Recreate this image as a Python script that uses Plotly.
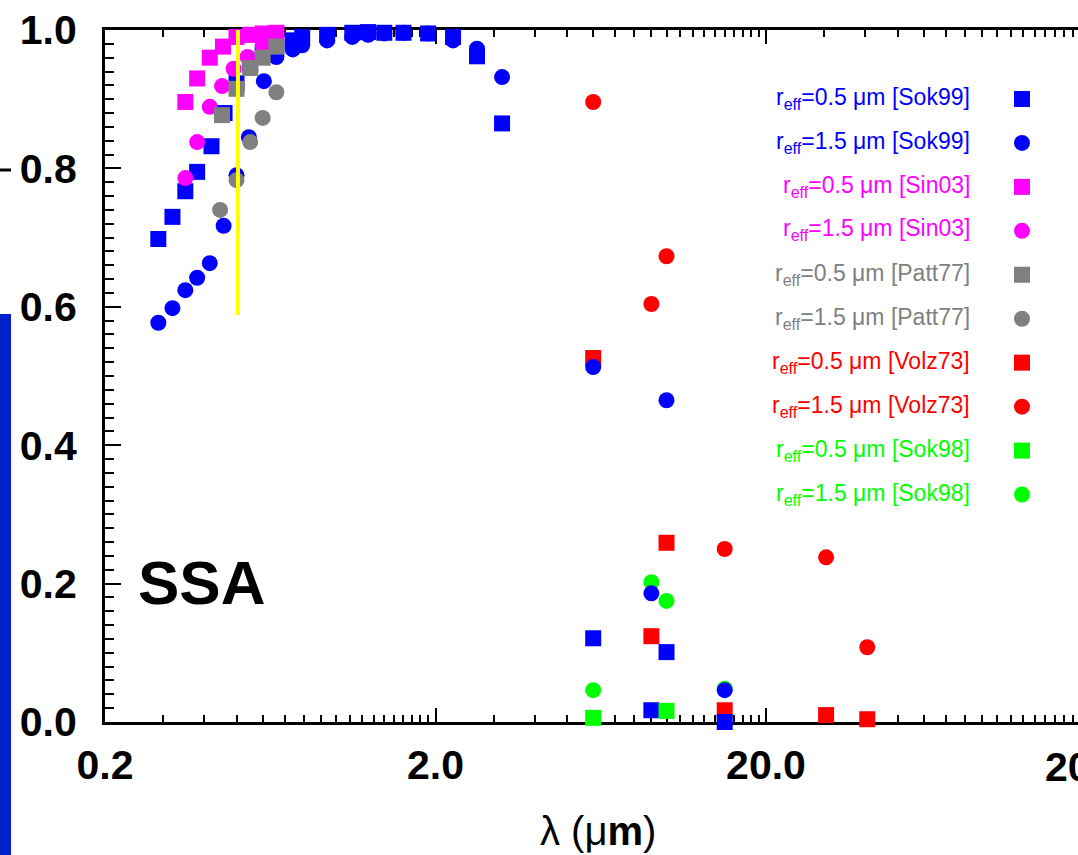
import math
import plotly.graph_objects as go

# ---------------- data ----------------
sok99_05_x = [0.29, 0.32, 0.35, 0.38, 0.42, 0.46, 0.50, 0.55, 0.60, 0.66, 0.74, 0.79, 0.94, 1.12, 1.25, 1.40, 1.60, 1.90, 2.26, 2.67, 3.18, 6.0, 9.0, 10.0, 15.0]
sok99_05_y = [0.698, 0.730, 0.767, 0.795, 0.832, 0.880, 0.923, 0.950, 0.965, 0.975, 0.985, 0.990, 0.993, 0.996, 0.997, 0.996, 0.996, 0.995, 0.990, 0.962, 0.865, 0.121, 0.017, 0.101, 0.0]

sok99_15_x = [0.29, 0.32, 0.35, 0.38, 0.415, 0.457, 0.50, 0.545, 0.605, 0.66, 0.74, 0.79, 0.94, 1.12, 1.25, 1.40, 1.60, 1.90, 2.26, 2.67, 3.18, 6.0, 9.0, 10.0, 15.0]
sok99_15_y = [0.577, 0.598, 0.624, 0.642, 0.663, 0.717, 0.790, 0.845, 0.926, 0.961, 0.972, 0.978, 0.985, 0.990, 0.993, 0.995, 0.996, 0.995, 0.985, 0.973, 0.932, 0.513, 0.186, 0.465, 0.046]

sin03_05_x = [0.35, 0.38, 0.415, 0.455, 0.50, 0.55, 0.60, 0.66]
sin03_05_y = [0.896, 0.930, 0.960, 0.976, 0.990, 0.993, 0.995, 0.996]

sin03_15_x = [0.35, 0.38, 0.415, 0.452, 0.49, 0.54, 0.60, 0.66]
sin03_15_y = [0.786, 0.838, 0.889, 0.919, 0.944, 0.961, 0.978, 0.985]

patt77_05_x = [0.452, 0.50, 0.55, 0.60, 0.66]
patt77_05_y = [0.877, 0.915, 0.945, 0.960, 0.976]

patt77_15_x = [0.446, 0.50, 0.55, 0.60, 0.66]
patt77_15_y = [0.740, 0.783, 0.838, 0.873, 0.910]

volz73_05_x = [6.0, 9.0, 10.0, 15.0, 30.4, 40.5]
volz73_05_y = [0.526, 0.124, 0.259, 0.017, 0.010, 0.004]

volz73_15_x = [6.0, 9.0, 10.0, 15.0, 30.4, 40.5]
volz73_15_y = [0.896, 0.604, 0.673, 0.250, 0.238, 0.108]

sok98_05_x = [6.0, 10.0]
sok98_05_y = [0.006, 0.016]

sok98_15_x = [6.0, 9.0, 10.0, 15.0]
sok98_15_y = [0.046, 0.202, 0.175, 0.048]

yellow_x = [0.505, 0.505]
yellow_y = [0.588, 1.0]

legend_labels = [
    "r<sub>eff</sub>=0.5 μm [Sok99]",
    "r<sub>eff</sub>=1.5 μm [Sok99]",
    "r<sub>eff</sub>=0.5 μm [Sin03]",
    "r<sub>eff</sub>=1.5 μm [Sin03]",
    "r<sub>eff</sub>=0.5 μm [Patt77]",
    "r<sub>eff</sub>=1.5 μm [Patt77]",
    "r<sub>eff</sub>=0.5 μm [Volz73]",
    "r<sub>eff</sub>=1.5 μm [Volz73]",
    "r<sub>eff</sub>=0.5 μm [Sok98]",
    "r<sub>eff</sub>=1.5 μm [Sok98]",
]

x_major = [0.2, 2.0, 20.0]
x_major_text = ["0.2", "2.0", "20.0"]
y_major = [0.0, 0.2, 0.4, 0.6, 0.8, 1.0]
y_major_text = ["0.0", "0.2", "0.4", "0.6", "0.8", "1.0"]

# ---------------- layout geometry ----------------
W, H = 1078, 855
L, T, B = 105, 30, 722
PW, PH = W - L, B - T
DEC = 330.5  # pixels per decade

def px(xp):
    return (xp - L) / PW

def py(yp):
    return (B - yp) / PH

FONT = "Liberation Sans, Arial, Helvetica, sans-serif"
BLUE, MAG, GRAY, RED, GREEN = "#0000FF", "#FF00FF", "#808080", "#FF0000", "#00FF00"

series = [
    # (x, y, color, symbol, legend rank)
    (volz73_05_x, volz73_05_y, RED, "square", 7),
    (volz73_15_x, volz73_15_y, RED, "circle", 8),
    (sok99_05_x, sok99_05_y, BLUE, "square", 1),
    (sok98_05_x, sok98_05_y, GREEN, "square", 9),
    (sok98_15_x, sok98_15_y, GREEN, "circle", 10),
    (sok99_15_x, sok99_15_y, BLUE, "circle", 2),
    (sin03_05_x, sin03_05_y, MAG, "square", 3),
    (sin03_15_x, sin03_15_y, MAG, "circle", 4),
    (patt77_05_x, patt77_05_y, GRAY, "square", 5),
    (patt77_15_x, patt77_15_y, GRAY, "circle", 6),
]

fig = go.Figure()
for xs, ys, col, sym, rank in series:
    fig.add_trace(go.Scatter(
        x=xs, y=ys, mode="markers", name="",
        marker=dict(color=col, symbol=sym, size=16, line=dict(width=0)),
        cliponaxis=False, legendrank=rank, showlegend=True,
    ))

fig.add_trace(go.Scatter(
    x=yellow_x, y=yellow_y, mode="lines", showlegend=False,
    line=dict(color="#FFFF00", width=4), cliponaxis=False,
))

x_lo = math.log10(0.2)
x_hi = x_lo + PW / DEC

minor_x = [round(0.1 * k, 1) for k in range(3, 20)] + list(range(3, 20)) + list(range(30, 180, 10))

annotations = []
leg_colors = [BLUE, BLUE, MAG, MAG, GRAY, GRAY, RED, RED, GREEN, GREEN]
for i, (lab, col) in enumerate(zip(legend_labels, leg_colors)):
    annotations.append(dict(
        x=px(972), y=py(98 + 44 * i), xref="paper", yref="paper",
        xanchor="right", yanchor="middle", text=lab, showarrow=False,
        font=dict(family=FONT, size=23, color=col),
    ))

annotations.append(dict(x=px(201), y=py(582), xref="paper", yref="paper",
                        xanchor="center", yanchor="middle", text="SSA", showarrow=False,
                        font=dict(family=FONT, size=62, color="black", weight="bold")))
annotations.append(dict(x=px(598), y=py(831), xref="paper", yref="paper",
                        xanchor="center", yanchor="middle", text="λ (μ<b>m</b>)", showarrow=False,
                        font=dict(family=FONT, size=40, color="black")))
annotations.append(dict(x=px(L + DEC * 3), y=py(767), xref="paper", yref="paper",
                        xanchor="center", yanchor="middle", text="200.0", showarrow=False,
                        font=dict(family=FONT, size=41, color="black", weight="bold")))

shapes = [
    dict(type="rect", xref="paper", yref="paper", x0=px(0), x1=px(11), y0=py(855), y1=py(314),
         fillcolor="#0022CC", line=dict(width=0), layer="above"),
    dict(type="line", xref="paper", yref="paper", x0=px(0), x1=px(11), y0=py(170), y1=py(170),
         line=dict(color="black", width=3), layer="above"),
]

fig.update_layout(
    width=W, height=H,
    margin=dict(l=L, r=0, t=T, b=H - B, pad=0),
    paper_bgcolor="white", plot_bgcolor="white",
    font=dict(family=FONT, color="black"),
    showlegend=True,
    legend=dict(x=px(1002), y=py(72), xanchor="left", yanchor="top",
                bgcolor="rgba(0,0,0,0)", font=dict(size=31.5), tracegroupgap=0,
                itemclick=False),
    annotations=annotations,
    shapes=shapes,
    xaxis=dict(
        type="log", range=[x_lo, x_hi],
        tickmode="array", tickvals=x_major, ticktext=x_major_text,
        ticks="inside", ticklen=14, tickwidth=2, tickcolor="black",
        showline=True, linewidth=3, linecolor="black", mirror="ticks",
        showgrid=False, zeroline=False, layer="below traces",
        ticklabelstandoff=5,
        tickfont=dict(family=FONT, size=41, color="black", weight="bold"),
        minor=dict(tickmode="array", tickvals=minor_x, ticks="inside", ticklen=7,
                   tickwidth=2, tickcolor="black", showgrid=False),
    ),
    yaxis=dict(
        range=[0, 1],
        tickmode="array", tickvals=y_major, ticktext=y_major_text,
        ticks="inside", ticklen=16, tickwidth=2, tickcolor="black",
        showline=True, linewidth=3, linecolor="black", mirror=False,
        showgrid=False, zeroline=False, layer="below traces",
        ticklabelstandoff=17,
        tickfont=dict(family=FONT, size=41, color="black", weight="bold"),
        minor=dict(dtick=0.02, tick0=0, ticks="inside", ticklen=9,
                   tickwidth=2, tickcolor="black", showgrid=False),
    ),
)

fig.write_html("out.html", config={"displayModeBar": False},
               post_script="document.body.style.margin='0';document.body.style.overflow='hidden';")
